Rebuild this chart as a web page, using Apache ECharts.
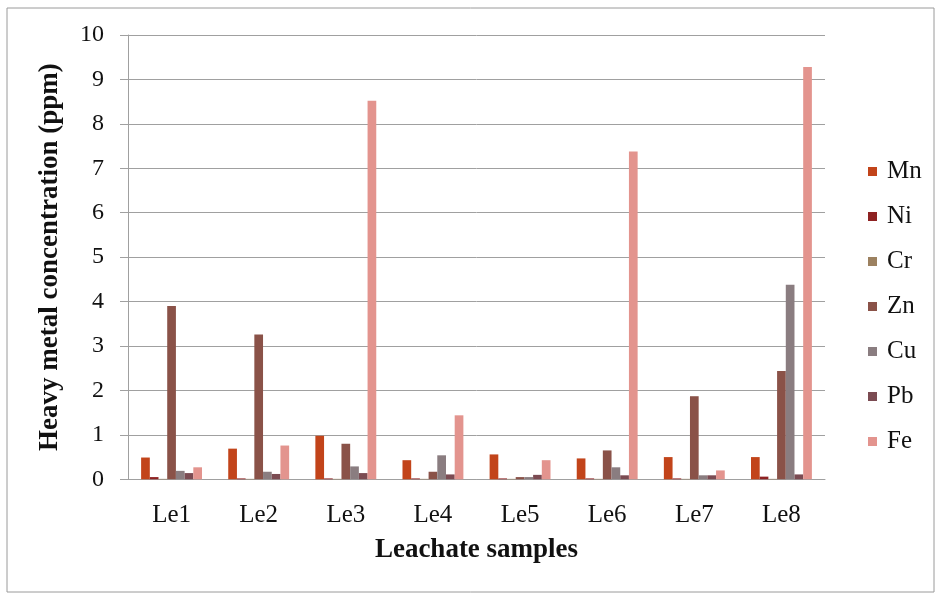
<!DOCTYPE html>
<html>
<head>
<meta charset="utf-8">
<script src="https://cdn.jsdelivr.net/npm/echarts@6/dist/echarts.min.js"></script>
<style>html,body{margin:0;padding:0;background:#fff;}#c{width:936px;height:594px;}</style>
</head>
<body>
<div id="c"></div>
<script>
const categories = ['Le1','Le2','Le3','Le4','Le5','Le6','Le7','Le8'];
const seriesNames = ['Mn','Ni','Cr','Zn','Cu','Pb','Fe'];
const Mn = [0.49, 0.69, 0.98, 0.43, 0.56, 0.47, 0.50, 0.50];
const Ni = [0.05, 0.02, 0.02, 0.02, 0.02, 0.02, 0.02, 0.06];
const Cr = [0.01, 0.01, 0.01, 0.01, 0.01, 0.01, 0.01, 0.01];
const Zn = [3.90, 3.26, 0.80, 0.17, 0.05, 0.65, 1.87, 2.44];
const Cu = [0.19, 0.17, 0.29, 0.54, 0.05, 0.27, 0.09, 4.38];
const Pb = [0.14, 0.12, 0.14, 0.11, 0.10, 0.09, 0.09, 0.11];
const Fe = [0.27, 0.76, 8.52, 1.44, 0.43, 7.38, 0.20, 9.28];
const yTicks = [0,1,2,3,4,5,6,7,8,9,10];
const colors = ['#C2441A','#8E2222','#9C8160','#8A5248','#8A7D80','#7B4B52','#E3948E'];
const values = [Mn, Ni, Cr, Zn, Cu, Pb, Fe];

const serif = '"Liberation Serif", "DejaVu Serif", serif';
const chart = echarts.init(document.getElementById('c'), null, {renderer:'canvas'});
chart.setOption({
  animation: false,
  backgroundColor: '#fff',
  color: colors,
  graphic: [{
    type: 'rect', shape: {x: 7, y: 8, width: 927, height: 584},
    style: {fill: 'none', stroke: '#9a9a9a', lineWidth: 1}, silent: true
  }],
  grid: {left: 128, right: 111, top: 35, bottom: 114.7, containLabel: false},
  legend: {
    orient: 'vertical', left: 863, top: 154,
    itemWidth: 9, itemHeight: 9, itemGap: 20,
    icon: 'rect',
    textStyle: {fontFamily: serif, fontSize: 25, lineHeight: 25, color: '#111', padding: [0,0,0,5]},
    data: seriesNames
  },
  xAxis: {
    type: 'category', data: categories,
    name: 'Leachate samples', nameLocation: 'middle', nameGap: 57,
    nameTextStyle: {fontFamily: serif, fontSize: 27, fontWeight: 'bold', color: '#111'},
    axisLine: {show: true, lineStyle: {color: '#a0a0a0', width: 1}},
    axisTick: {show: false},
    axisLabel: {fontFamily: serif, fontSize: 25, color: '#111', margin: 24}
  },
  yAxis: {
    type: 'value', min: 0, max: 10, interval: 1,
    name: 'Heavy metal concentration (ppm)', nameLocation: 'middle', nameGap: 64,
    nameTextStyle: {fontFamily: serif, fontSize: 27, fontWeight: 'bold', color: '#111'},
    axisLine: {show: true, lineStyle: {color: '#a0a0a0', width: 1}},
    axisTick: {show: true, length: 8, lineStyle: {color: '#a0a0a0'}},
    splitLine: {show: true, lineStyle: {color: '#a0a0a0', width: 1}},
    axisLabel: {fontFamily: serif, fontSize: 24, color: '#111', margin: 24,
      formatter: v => yTicks.includes(v) ? String(v) : ''}
  },
  series: seriesNames.map((n, i) => ({
    name: n, type: 'bar', data: values[i],
    barWidth: 8.7, barGap: '0%',
    itemStyle: {color: colors[i]}
  }))
});
</script>
</body>
</html>
